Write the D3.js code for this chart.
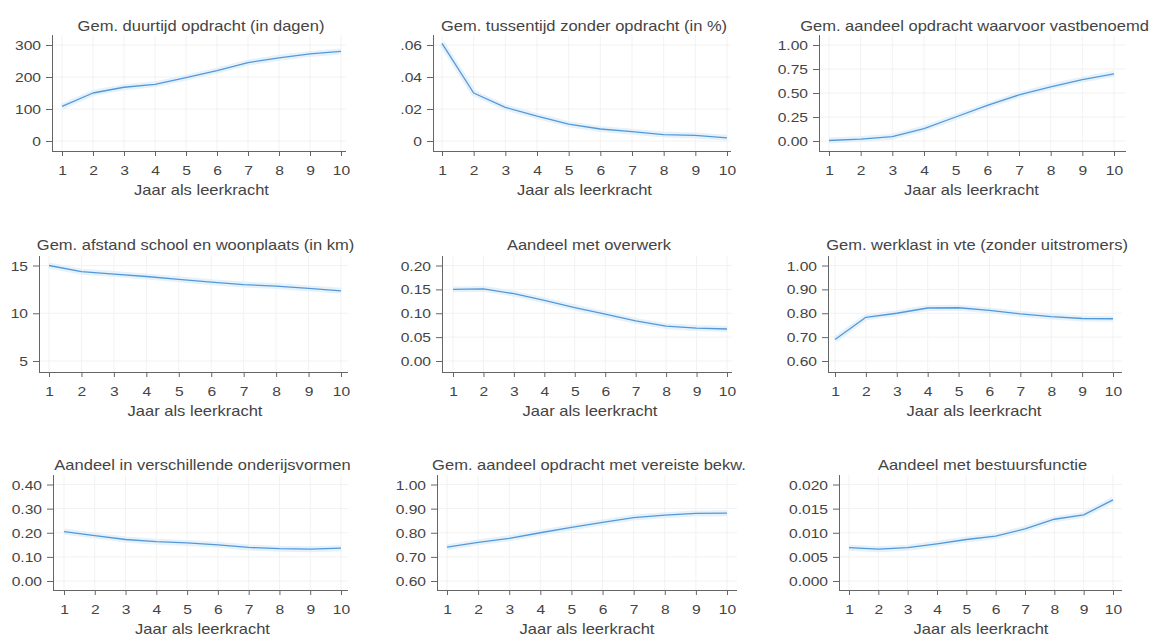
<!DOCTYPE html>
<html>
<head>
<meta charset="utf-8">
<script src="https://cdn.jsdelivr.net/npm/d3@7"></script>
<style>
  html, body { margin: 0; padding: 0; background: #ffffff; }
  svg { display: block; font-family: "Liberation Sans", Arial, sans-serif; }
</style>
</head>
<body>
<svg id="chart" width="1150" height="637"></svg>
<script>
// Years in the profession (x axis, shared by all panels)
const years = [1, 2, 3, 4, 5, 6, 7, 8, 9, 10];
const xTitle = "Jaar als leerkracht";

// Panel titles
const titles = [
  "Gem. duurtijd opdracht (in dagen)",
  "Gem. tussentijd zonder opdracht (in %)",
  "Gem. aandeel opdracht waarvoor vastbenoemd",
  "Gem. afstand school en woonplaats (in km)",
  "Aandeel met overwerk",
  "Gem. werklast in vte (zonder uitstromers)",
  "Aandeel in verschillende onderijsvormen",
  "Gem. aandeel opdracht met vereiste bekw.",
  "Aandeel met bestuursfunctie"
];

// Series values per panel, year 1..10
const duurtijd      = [108, 150, 168, 177, 198, 220, 245, 260, 272, 280];
const tussentijd    = [0.061, 0.030, 0.021, 0.0155, 0.0105, 0.0075, 0.0058, 0.0040, 0.0035, 0.0020];
const vastbenoemd   = [0.005, 0.020, 0.045, 0.130, 0.250, 0.370, 0.480, 0.565, 0.640, 0.700];
const afstand       = [15.0, 14.35, 14.1, 13.85, 13.55, 13.25, 13.0, 12.85, 12.6, 12.35];
const overwerk      = [0.150, 0.151, 0.141, 0.127, 0.112, 0.098, 0.084, 0.073, 0.069, 0.067];
const werklast      = [0.690, 0.783, 0.800, 0.822, 0.823, 0.812, 0.797, 0.786, 0.778, 0.777];
const onderwijs     = [0.205, 0.188, 0.172, 0.163, 0.158, 0.150, 0.139, 0.134, 0.132, 0.136];
const bekwaamheid   = [0.740, 0.760, 0.777, 0.800, 0.822, 0.843, 0.863, 0.873, 0.880, 0.881];
const bestuur       = [0.0069, 0.0066, 0.0069, 0.0077, 0.0086, 0.0093, 0.0108, 0.0128, 0.0137, 0.0168];

// Y tick values and their printed labels per panel
const yTicks1 = [0, 100, 200, 300];             const yLabels1 = ["0", "100", "200", "300"];
const yTicks2 = [0, 0.02, 0.04, 0.06];          const yLabels2 = ["0", ".02", ".04", ".06"];
const yTicks3 = [0, 0.25, 0.5, 0.75, 1];        const yLabels3 = ["0.00", "0.25", "0.50", "0.75", "1.00"];
const yTicks4 = [5, 10, 15];                    const yLabels4 = ["5", "10", "15"];
const yTicks5 = [0, 0.05, 0.1, 0.15, 0.2];      const yLabels5 = ["0.00", "0.05", "0.10", "0.15", "0.20"];
const yTicks6 = [0.6, 0.7, 0.8, 0.9, 1];        const yLabels6 = ["0.60", "0.70", "0.80", "0.90", "1.00"];
const yTicks7 = [0, 0.1, 0.2, 0.3, 0.4];        const yLabels7 = ["0.00", "0.10", "0.20", "0.30", "0.40"];
const yTicks8 = [0.6, 0.7, 0.8, 0.9, 1];        const yLabels8 = ["0.60", "0.70", "0.80", "0.90", "1.00"];
const yTicks9 = [0, 0.005, 0.01, 0.015, 0.02];  const yLabels9 = ["0.000", "0.005", "0.010", "0.015", "0.020"];

const panels = [
  { title: titles[0], values: duurtijd,    ticks: yTicks1, labels: yLabels1 },
  { title: titles[1], values: tussentijd,  ticks: yTicks2, labels: yLabels2 },
  { title: titles[2], values: vastbenoemd, ticks: yTicks3, labels: yLabels3 },
  { title: titles[3], values: afstand,     ticks: yTicks4, labels: yLabels4 },
  { title: titles[4], values: overwerk,    ticks: yTicks5, labels: yLabels5 },
  { title: titles[5], values: werklast,    ticks: yTicks6, labels: yLabels6 },
  { title: titles[6], values: onderwijs,   ticks: yTicks7, labels: yLabels7 },
  { title: titles[7], values: bekwaamheid, ticks: yTicks8, labels: yLabels8 },
  { title: titles[8], values: bestuur,     ticks: yTicks9, labels: yLabels9 }
];

// ---- layout of the 3x3 grid ----
const rowGeom = [
  { base: 151, topTick: 45,    lowTick: 141, axisTop: 35,  titleY: 30.5 },
  { base: 372, topTick: 265.5, lowTick: 361, axisTop: 256, titleY: 250 },
  { base: 590, topTick: 484.5, lowTick: 581, axisTop: 475, titleY: 470 }
];
const colGeom = [
  { left: 52,  first: 62,  last: 341,  right: 346 },
  { left: 433, first: 442, last: 727,  right: 731 },
  { left: 819, first: 829, last: 1114, right: 1126 },
  { left: 39,  first: 49,  last: 341,  right: 348 },
  { left: 442, first: 453, last: 727,  right: 732 },
  { left: 828, first: 835, last: 1113, right: 1122 },
  { left: 53,  first: 64,  last: 341,  right: 348 },
  { left: 437, first: 447, last: 727,  right: 737 },
  { left: 839, first: 849, last: 1113, right: 1122 }
];

const TEXT = "#444444";
const AXIS = "#666666";
const GRID = "#f2f2f2";
const LINE = "#5598d6";
const HALO = "#dcedfa";
const TITLE_SIZE = 14, TICK_SIZE = 12.5;
const TITLE_STRETCH = 1.18, TICK_STRETCH = 1.25;

const svg = d3.select("#chart");

panels.forEach((p, i) => {
  const r = rowGeom[Math.floor(i / 3)];
  const c = colGeom[i];
  const g = svg.append("g");

  const x = d3.scaleLinear().domain([1, 10]).range([c.first, c.last]);
  const lo = p.ticks[0], hi = p.ticks[p.ticks.length - 1];
  const y = d3.scaleLinear().domain([lo, hi]).range([r.lowTick, r.topTick]);

  // light gridlines
  g.append("g").selectAll("line.h").data(p.ticks).join("line")
    .attr("x1", c.left).attr("x2", c.right)
    .attr("y1", d => y(d)).attr("y2", d => y(d))
    .attr("stroke", GRID).attr("stroke-width", 1);
  g.append("g").selectAll("line.v").data(years).join("line")
    .attr("x1", d => x(d)).attr("x2", d => x(d))
    .attr("y1", r.axisTop).attr("y2", r.base)
    .attr("stroke", GRID).attr("stroke-width", 1);

  // x axis
  const xAxis = g.append("g").attr("transform", `translate(0,${r.base})`)
    .call(d3.axisBottom(x).tickValues(years).tickFormat(d3.format("d"))
      .tickSize(5).tickSizeOuter(0));
  xAxis.select(".domain").remove();
  xAxis.selectAll(".tick line").attr("stroke", AXIS);
  xAxis.selectAll(".tick text")
    .attr("y", null).attr("dy", null).attr("x", null)
    .attr("transform", `translate(0,24) scale(${TICK_STRETCH},1)`)
    .attr("fill", TEXT).style("font-size", TICK_SIZE + "px")
    .style("font-family", "'Liberation Sans', Arial, sans-serif");

  // y axis
  const yAxis = g.append("g").attr("transform", `translate(${c.left},0)`)
    .call(d3.axisLeft(y).tickValues(p.ticks)
      .tickFormat((d, k) => p.labels[k]).tickSize(6).tickSizeOuter(0));
  yAxis.select(".domain").remove();
  yAxis.selectAll(".tick line").attr("stroke", AXIS);
  yAxis.selectAll(".tick text")
    .attr("x", null).attr("dy", "0.36em")
    .attr("transform", `translate(-11,0) scale(${TICK_STRETCH},1)`)
    .attr("fill", TEXT).style("font-size", TICK_SIZE + "px")
    .style("font-family", "'Liberation Sans', Arial, sans-serif");

  // axis lines spanning the plot region
  g.append("line").attr("x1", c.left).attr("x2", c.right)
    .attr("y1", r.base + 0.5).attr("y2", r.base + 0.5)
    .attr("stroke", AXIS).attr("stroke-width", 1);
  g.append("line").attr("x1", c.left + 0.5).attr("x2", c.left + 0.5)
    .attr("y1", r.axisTop).attr("y2", r.base + 0.5)
    .attr("stroke", AXIS).attr("stroke-width", 1);

  // series line with its soft light-blue band
  const line = d3.line().x((d, k) => x(years[k])).y(d => y(d));
  g.append("path").datum(p.values).attr("d", line)
    .attr("fill", "none").attr("stroke", HALO).attr("stroke-width", 6)
    .attr("stroke-linejoin", "round").attr("opacity", 0.7);
  g.append("path").datum(p.values).attr("d", line)
    .attr("fill", "none").attr("stroke", LINE).attr("stroke-width", 1.3)
    .attr("stroke-linejoin", "round");

  // panel title
  const cx = (c.left + c.right) / 2 + 2;
  g.append("text")
    .attr("transform", `translate(${cx},${r.titleY}) scale(${TITLE_STRETCH},1)`)
    .attr("text-anchor", "middle").attr("fill", TEXT)
    .style("font-size", TITLE_SIZE + "px")
    .text(p.title);

  // x axis title
  g.append("text")
    .attr("transform", `translate(${(c.first + c.last) / 2},${r.base + 44}) scale(${TITLE_STRETCH},1)`)
    .attr("text-anchor", "middle").attr("fill", TEXT)
    .style("font-size", TITLE_SIZE + "px")
    .text(xTitle);
});
</script>
</body>
</html>
